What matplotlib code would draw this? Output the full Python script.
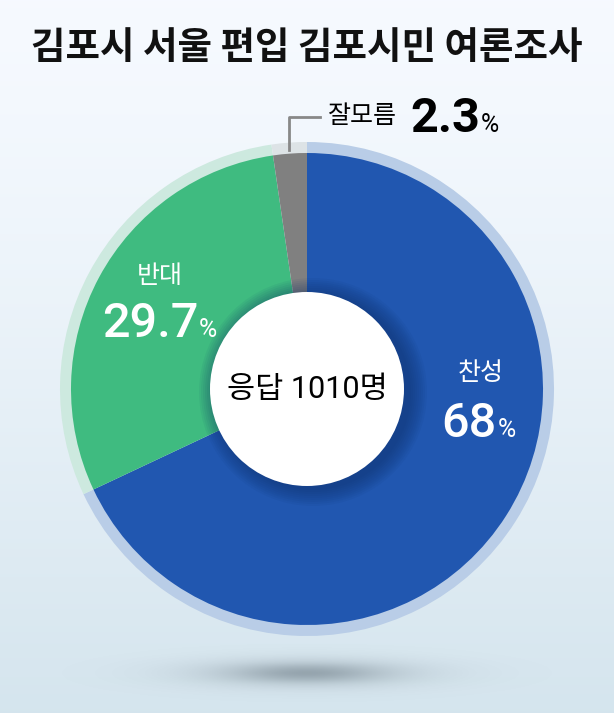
import numpy as np
import matplotlib
matplotlib.use("Agg")
import matplotlib.pyplot as plt
from matplotlib.patches import Circle

plt.rcParams['font.family'] = ['Noto Sans CJK KR', 'DejaVu Sans']
NUM_FONT = ['Roboto', 'Noto Sans CJK KR']

# 데이터
labels = ['찬성', '반대', '잘모름']
values = [68, 29.7, 2.3]
value_text = ['68', '29.7', '2.3']
colors = ['#2157b0', '#3fbb80', '#808080']
ring_colors = ['#b9cde7', '#cde9df', '#dde3e6']
title = '김포시 서울 편입 김포시민 여론조사'
center_text = '응답 1010명'

W, H = 614, 713
fig = plt.figure(figsize=(W / 100, H / 100), dpi=100)
ax = fig.add_axes([0, 0, 1, 1])

# 배경 그라데이션
grad = np.linspace(0, 1, 256).reshape(-1, 1)
top = np.array([0.965, 0.980, 1.0])
bot = np.array([0.835, 0.898, 0.933])
bg = top + (bot - top) * grad[..., None] ** 1.3
ax.imshow(np.repeat(bg, 2, axis=1), extent=[0, W, 0, H], aspect='auto', zorder=0)

# 바닥 그림자
cx, cy = 307, 324
gx = np.linspace(-1, 1, 300)
gy = np.linspace(-1, 1, 80)
X, Y = np.meshgrid(gx, gy)
a = np.exp(-(X ** 2 / 0.22 + Y ** 2 / 0.10)) * 0.32 + np.exp(-(X ** 2 / 0.07 + Y ** 2 / 0.04)) * 0.26
shadow = np.zeros((80, 300, 4))
shadow[..., 0] = 0.40
shadow[..., 1] = 0.46
shadow[..., 2] = 0.50
shadow[..., 3] = a
ax.imshow(shadow, extent=[cx - 250, cx + 250, 40 - 45, 40 + 45], aspect='auto', zorder=1)

# 바깥 링
ax.pie(values, colors=ring_colors, startangle=90, counterclock=False,
       center=(cx, cy), radius=247, wedgeprops=dict(width=14, linewidth=0),
       frame=True)
# 파이
ax.pie(values, colors=colors, startangle=90, counterclock=False,
       center=(cx, cy), radius=236, wedgeprops=dict(linewidth=0), frame=True)
ax.set_xlim(0, W)
ax.set_ylim(0, H)
ax.set_aspect('equal')
ax.axis('off')

# 가운데 원 그림자 + 흰 원
for r in np.linspace(114, 98, 9):
    ax.add_patch(Circle((cx + 6, cy - 3), r, color='#0b2a60', alpha=0.06, lw=0, zorder=5))
ax.add_patch(Circle((cx, cy), 97, color='white', lw=0, zorder=6))
ax.text(cx, H - 389, center_text, ha='center', va='center', fontsize=22,
        family=NUM_FONT, color='black', zorder=7)

# 제목
ax.text(W / 2, H - 47, title, ha='center', va='center', fontsize=27,
        fontweight='bold', color='#111111')


def value_label(x, y, num, color, weight):
    # 숫자는 오른쪽 끝을 x에 맞추고 % 는 바로 뒤에
    ax.text(x, y, num, ha='right', va='baseline', fontsize=35, family=NUM_FONT,
            fontweight=weight, color=color, zorder=7)
    ax.text(x + 1, y, '%', ha='left', va='baseline', fontsize=18, family=NUM_FONT,
            color=color, zorder=7)


# 찬성
ax.text(481, H - 373, labels[0], ha='center', va='center', fontsize=18, color='white', zorder=7)
value_label(497, H - 437, value_text[0], 'white', 'medium')

# 반대
ax.text(160, H - 276, labels[1], ha='center', va='center', fontsize=18, color='white', zorder=7)
value_label(198, H - 337, value_text[1], 'white', 'medium')

# 잘모름
ax.plot([289, 289, 320], [H - 150, H - 117, H - 117], color='#888888', lw=2, zorder=3)
ax.text(328, H - 116, labels[2], ha='left', va='center', fontsize=18, color='black')
value_label(480, H - 132, value_text[2], 'black', 'bold')

fig.savefig('out.png', dpi=100)
